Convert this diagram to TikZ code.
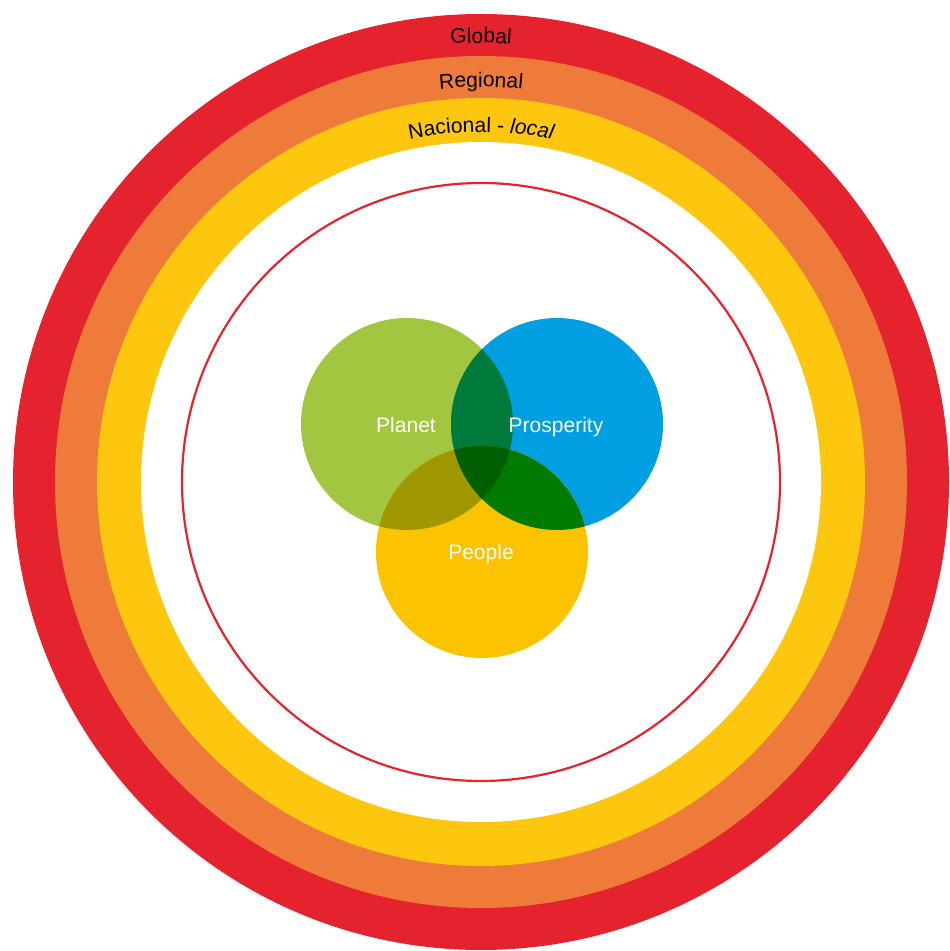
\documentclass[tikz,border=0pt]{standalone}
\usepackage{fontspec}
\setmainfont{Liberation Sans}
\usetikzlibrary{decorations.text}

\definecolor{ringred}{HTML}{E5232F}
\definecolor{ringorange}{HTML}{EE7B39}
\definecolor{ringyellow}{HTML}{FDC70F}
\definecolor{planetgreen}{HTML}{A3C640}
\definecolor{prosblue}{HTML}{009FE1}
\definecolor{peopleyellow}{HTML}{FCC300}
\definecolor{gbmix}{HTML}{007A3A}
\definecolor{gymix}{HTML}{A09800}
\definecolor{bymix}{HTML}{007A00}
\definecolor{allmix}{HTML}{005F00}

\newcommand{\bandfont}{\fontsize{21}{25}\selectfont}

\tikzset{
  venn/.style={circle, minimum size=212pt, inner sep=0pt, fill=#1},
  vennlabel/.style={anchor=base, text=white, font=\bandfont, inner sep=0pt},
  bandtext/.style={decorate, decoration={text along path, text align=center, text={#1}}}
}

\begin{document}
\begin{tikzpicture}[x=1pt, y=1pt]
  \useasboundingbox (0,0) rectangle (950,951);
  \coordinate (c) at (481,469);

  % concentric scope rings
  \fill[ringred]    (c) circle (468pt);
  \fill[ringorange] (c) circle (426pt);
  \fill[ringyellow] (c) circle (384pt);
  \fill[white]      (c) circle (340pt);
  \draw[ringred, line width=2.2pt] (c) circle (299pt);

  % ring captions following the arcs
  \path[bandtext={|\bandfont|Global}]
    (c) ++(125:439pt) arc[start angle=125, end angle=55, radius=439pt];
  \path[bandtext={|\bandfont|Regional}]
    (c) ++(125:395pt) arc[start angle=125, end angle=55, radius=395pt];
  \path[bandtext={|\bandfont|Nacional - |\bandfont\itshape|local}]
    (c) ++(125:350pt) arc[start angle=125, end angle=55, radius=350pt];

  % three overlapping circles
  \node[venn=planetgreen]  (planet)     at (407,527) {};
  \node[venn=prosblue]     (prosperity) at (557,527) {};
  \node[venn=peopleyellow] (people)     at (482,399) {};

  % pairwise overlaps
  \begin{scope}
    \clip (planet.center) circle (106pt);
    \fill[gbmix] (prosperity.center) circle (106pt);
  \end{scope}
  \begin{scope}
    \clip (planet.center) circle (106pt);
    \fill[gymix] (people.center) circle (106pt);
  \end{scope}
  \begin{scope}
    \clip (prosperity.center) circle (106pt);
    \fill[bymix] (people.center) circle (106pt);
  \end{scope}
  % common overlap
  \begin{scope}
    \clip (planet.center) circle (106pt);
    \clip (prosperity.center) circle (106pt);
    \fill[allmix] (people.center) circle (106pt);
  \end{scope}

  % circle captions
  \node[vennlabel] (planetlbl) at (406,518) {Planet};
  \node[vennlabel] (proslbl)   at (556,518) {Prosperity};
  \node[vennlabel] (peoplelbl) at (481,391) {People};
\end{tikzpicture}
\end{document}
